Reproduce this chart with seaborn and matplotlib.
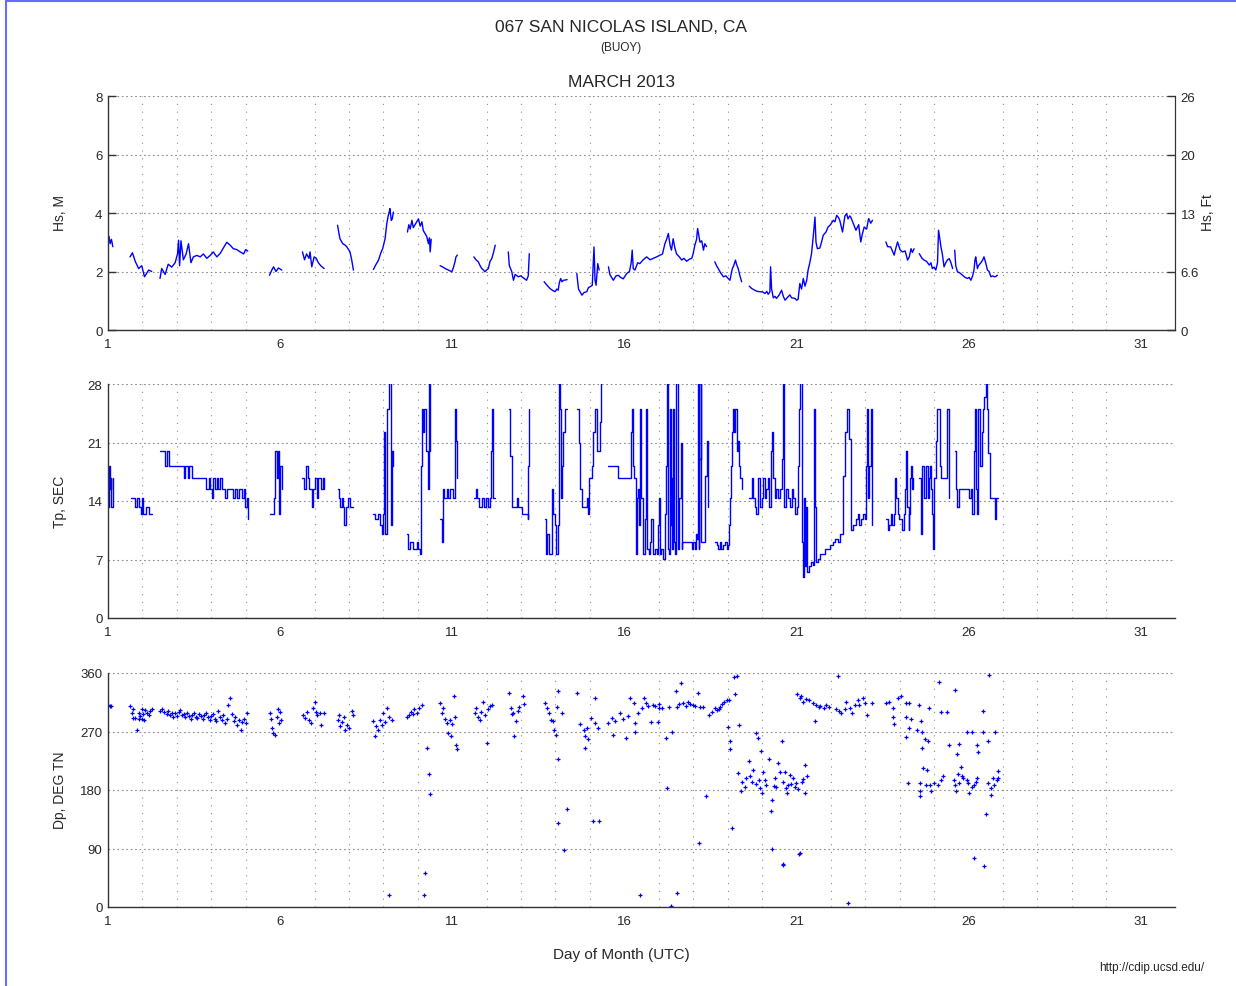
import numpy as np
import pandas as pd
import matplotlib
matplotlib.use("Agg")
import matplotlib.pyplot as plt
from matplotlib.patches import Rectangle
from matplotlib.ticker import FixedLocator
import seaborn as sns

NA = np.nan

# ---- Hs (m), segments split by NA ----
hs_day = [
    1.0, 1.03, 1.06, 1.1, 1.14, NA,
    1.64, 1.71, 1.79, 1.89, 1.98, 2.06, 2.13, 2.18, 2.27, NA,
    2.51, 2.56, 2.66, 2.75, 2.85, 2.95, 3.02, 3.05, 3.08, 3.12, 3.19, 3.27, 3.34, 3.41, 3.48, 3.58,
    3.68, 3.77, 3.87, 3.97, 4.06, 4.16, 4.26, 4.35, 4.45, 4.55, 4.64, 4.74, 4.84, 4.94, 5.0, 5.06, NA,
    5.69, 5.76, 5.81, 5.88, 5.95, 6.05, NA,
    6.65, 6.71, 6.77, 6.84, 6.87, 6.92, 6.99, 7.05, 7.11, 7.18, 7.28, NA,
    7.67, 7.71, 7.74, 7.82, 7.89, 7.94, 8.03, 8.08, 8.13, NA,
    8.71, 8.79, 8.86, 8.93, 8.98, 9.05, 9.1, 9.14, 9.17, 9.19, 9.23, 9.26, 9.29, NA,
    9.7, 9.74, 9.78, 9.83, 9.87, 9.92, 9.97, 10.02, 10.07, 10.12, 10.16, 10.21, 10.26, 10.31, 10.34, 10.36, 10.39, NA,
    10.65, 10.73, 10.8, 10.89, 10.99, 11.04, 11.08, 11.11, 11.15, NA,
    11.63, 11.69, 11.76, 11.81, 11.86, 11.91, 11.95, 12.0, 12.05, 12.1, 12.15, 12.2, 12.25, NA,
    12.63, 12.66, 12.73, 12.78, 12.83, 12.92, 12.99, 13.07, 13.16, 13.21, 13.24, NA,
    13.67, 13.74, 13.84, 13.92, 13.99, 14.04, 14.08, 14.11, 14.15, 14.19, 14.23, 14.34, NA,
    14.62, 14.67, 14.77, 14.83, 14.91, 14.96, 15.01, 15.07, 15.12, 15.15, 15.18, 15.23, 15.27, NA,
    15.54, 15.58, 15.68, 15.76, 15.83, 15.89, 15.97, 16.07, 16.15, 16.2, 16.23, 16.26, 16.31, 16.39,
    16.45, 16.55, 16.65, 16.75, 16.84, 16.94, 17.04, 17.11, 17.18, 17.23, 17.28, 17.33, 17.37, 17.42,
    17.47, 17.52, 17.6, 17.67, 17.73, 17.81, 17.89, 17.96, 18.0, 18.05, 18.1, 18.13, 18.17, 18.2,
    18.25, 18.3, 18.34, 18.39, NA,
    18.63, 18.68, 18.73, 18.8, 18.88, 18.95, 19.02, 19.07, 19.12, 19.14, 19.18, 19.23, 19.26, 19.31, 19.36, 19.41, NA,
    19.63, 19.7, 19.79, 19.86, 19.94, 20.02, 20.09, 20.14, 20.18, 20.23, 20.25, 20.28, 20.33, 20.38,
    20.42, 20.5, 20.57, 20.62, 20.67, 20.73, 20.81, 20.86, 20.96, 21.01, 21.05,
    21.1, 21.15, 21.2, 21.25, 21.3, 21.34, 21.39, 21.44, 21.49, 21.54, 21.57, 21.61, 21.68, 21.73,
    21.78, 21.86, 21.92, 21.99, 22.07, 22.12, 22.17, 22.22, 22.26, 22.34, 22.41, 22.46, 22.5, 22.55,
    22.58, 22.73, 22.81, 22.87, 22.92, 22.97, 23.04, 23.1, 23.16, 23.21, NA,
    23.6, 23.65, 23.74, 23.79, 23.84, 23.89, 23.94, 24.01, 24.08, 24.16, 24.23, 24.28, 24.33, 24.37, 24.42, NA,
    24.57, 24.65, 24.71, 24.78, 24.86, 24.91, 24.95, 25.0, 25.05, 25.1, 25.13, 25.17, 25.2, 25.24,
    25.29, 25.34, 25.39, 25.44, 25.49, 25.54, NA,
    25.6, 25.63, 25.68, 25.75, 25.83, 25.9, 25.97, 26.02, 26.07, 26.12, 26.16, 26.19, 26.21, 26.26,
    26.29, 26.36, 26.41, 26.45, 26.5, 26.55, 26.6, 26.65, 26.7, 26.75, 26.79, 26.84,
]
hs_m = [
    3.05, 3.2, 2.95, 3.1, 2.85, NA,
    2.5, 2.64, 2.35, 2.1, 2.2, 1.82, 1.95, 2.05, 2.0, NA,
    1.76, 2.1, 1.9, 2.25, 2.15, 2.3, 2.6, 3.07, 2.2, 3.05, 2.4, 2.6, 2.95, 2.3, 2.5, 2.55,
    2.5, 2.6, 2.45, 2.55, 2.67, 2.5, 2.62, 2.8, 3.0, 2.9, 2.78, 2.75, 2.67, 2.6, 2.75, 2.7, NA,
    1.87, 2.05, 2.16, 2.0, 2.12, 2.05, NA,
    2.67, 2.4, 2.6, 2.45, 2.67, 2.16, 2.5, 2.45, 2.3, 2.2, 2.1, NA,
    3.58, 3.3, 3.12, 2.95, 2.9, 2.84, 2.67, 2.4, 2.05, NA,
    2.07, 2.25, 2.39, 2.65, 2.78, 3.12, 3.64, 3.9, 4.03, 4.15, 3.75, 3.8, 4.03, NA,
    3.35, 3.6, 3.45, 3.75, 3.5, 3.6, 3.7, 3.8, 3.55, 3.7, 3.4, 3.3, 3.2, 2.95, 3.15, 2.67, 3.1, NA,
    2.2, 2.15, 2.1, 2.05, 1.99, 2.15, 2.33, 2.5, 2.56, NA,
    2.5, 2.4, 2.33, 2.2, 2.1, 2.05, 1.99, 2.05, 2.1, 2.35, 2.44, 2.65, 2.9, NA,
    2.67, 2.2, 2.0, 1.7, 1.9, 1.82, 1.85, 1.78, 1.7, 1.85, 2.61, NA,
    1.65, 1.55, 1.42, 1.35, 1.31, 1.4, 1.36, 1.6, 1.76, 1.65, 1.7, 1.72, NA,
    1.93, 1.4, 1.19, 1.28, 1.31, 1.45, 1.48, 1.53, 2.84, 1.7, 1.53, 2.27, 2.05, NA,
    2.16, 1.9, 1.7, 1.85, 1.87, 1.8, 1.75, 1.93, 2.0, 2.3, 2.73, 2.1, 2.05, 2.3,
    2.27, 2.4, 2.5, 2.4, 2.45, 2.5, 2.56, 2.6, 2.95, 3.1, 3.3, 2.9, 2.73, 3.12,
    2.8, 2.6, 2.5, 2.39, 2.45, 2.35, 2.42, 2.45, 2.6, 2.9, 3.1, 3.47, 3.2, 3.0,
    3.05, 2.73, 2.95, 2.85, NA,
    2.33, 2.2, 2.1, 1.95, 1.82, 1.85, 1.76, 1.7, 2.0, 2.1, 2.2, 2.39, 2.25, 2.1, 1.85, 1.65, NA,
    1.5, 1.42, 1.36, 1.32, 1.31, 1.3, 1.25, 1.32, 1.22, 1.3, 2.16, 1.4, 1.1, 1.15,
    1.08, 1.2, 1.36, 1.15, 1.02, 1.1, 1.2, 1.1, 1.08, 1.02, 1.05,
    1.59, 1.4, 1.76, 1.5, 1.7, 2.05, 2.3, 2.61, 3.2, 3.86, 3.0, 2.78, 2.8, 3.0,
    3.24, 3.35, 3.52, 3.6, 3.75, 3.7, 3.92, 3.85, 3.75, 3.35, 3.9, 3.98, 3.8, 3.9,
    3.86, 3.41, 3.6, 3.01, 3.3, 3.52, 3.45, 3.81, 3.65, 3.75, NA,
    3.01, 2.85, 2.84, 2.7, 2.56, 2.8, 3.01, 2.75, 2.67, 2.7, 2.39, 2.5, 2.78, 2.65, 2.78, NA,
    2.61, 2.45, 2.39, 2.35, 2.22, 2.3, 2.1, 2.15, 2.05, 2.3, 3.41, 3.1, 2.84, 2.6,
    2.16, 2.3, 2.4, 2.44, 2.3, 2.1, NA,
    2.73, 2.2, 1.99, 1.95, 1.87, 1.8, 1.76, 1.8, 1.7, 1.85, 2.05, 2.4, 2.5, 2.1,
    2.2, 2.3, 2.39, 2.5, 2.3, 2.05, 2.0, 1.82, 1.85, 1.82, 1.83, 1.87,
]

# ---- Tp (s), step values, segments split by NA ----
tp_day = [
    1.0, 1.02, 1.05, 1.08, 1.1, 1.14, NA,
    1.66, 1.74, 1.79, 1.85, 1.89, 1.95, 1.98, 2.03, 2.1, 2.18, 2.27, NA,
    2.51, 2.61, 2.66, 2.7, 2.76, 3.19, 3.21, 3.25, 3.31, 3.34, 3.43, 3.82, 3.85, 3.92, 3.97, 4.02,
    4.06, 4.11, 4.16, 4.21, 4.26, 4.31, 4.4, 4.45, 4.64, 4.69, 4.74, 4.82, 4.89, 4.94, 4.98, 5.03, 5.08, NA,
    5.71, 5.79, 5.83, 5.85, 5.9, 5.93, 5.98, 6.0, 6.05, NA,
    6.65, 6.7, 6.76, 6.8, 6.85, 6.92, 6.97, 7.02, 7.06, 7.11, 7.18, 7.24, 7.28, NA,
    7.67, 7.7, 7.74, 7.79, 7.84, 7.87, 7.91, 7.96, 8.03, 8.13, NA,
    8.71, 8.77, 8.83, 8.91, 8.95, 9.0, 9.03, 9.06, 9.1, 9.12, 9.15, 9.19, 9.22, 9.25, 9.29, NA,
    9.68, 9.71, 9.78, 9.87, 9.97, 10.02, 10.07, 10.09, 10.13, 10.16, 10.19, 10.24, 10.29, 10.33, 10.36, NA,
    10.65, 10.69, 10.73, 10.77, 10.84, 10.89, 10.94, 11.02, 11.07, 11.11, 11.15, NA,
    11.63, 11.68, 11.73, 11.79, 11.86, 11.93, 11.98, 12.05, 12.1, 12.12, 12.15, 12.18, 12.2, 12.25, NA,
    12.65, 12.68, 12.73, 12.87, 12.92, 13.02, 13.19, 13.21, 13.24, NA,
    13.7, 13.73, 13.76, 13.8, 13.89, 13.94, 13.99, 14.02, 14.06, 14.1, 14.13, 14.15, 14.19, 14.23, 14.28, 14.34, NA,
    14.64, 14.67, 14.71, 14.76, 14.91, 14.95, 14.98, 15.05, 15.1, 15.15, 15.2, 15.28, 15.31, NA,
    15.54, 15.83, 16.19, 16.22, 16.24, 16.28, 16.34, 16.38, 16.41, 16.44, 16.45, 16.48, 16.53, 16.55,
    16.6, 16.63, 16.66, 16.71, 16.75, 16.79, 16.83, 16.89, 16.94, 16.98, 17.01, 17.04, 17.08, 17.13,
    17.18, 17.21, 17.25, 17.28, 17.3, 17.33, 17.36, 17.37, 17.4, 17.42, 17.45, 17.47, 17.5, 17.55,
    17.57, 17.6, 17.64, 17.67, 17.69, 17.96, 18.0, 18.05, 18.08, 18.1, 18.14, 18.16, 18.18, 18.22,
    18.24, 18.34, 18.39, 18.42, NA,
    18.63, 18.68, 18.73, 18.78, 18.82, 18.88, 18.92, 18.97, 19.02, 19.04, 19.07, 19.1, 19.12, 19.15,
    19.18, 19.21, 19.28, 19.31, 19.34, 19.36, 19.41, NA,
    19.63, 19.7, 19.75, 19.8, 19.84, 19.89, 19.94, 19.99, 20.04, 20.09, 20.13, 20.18, 20.21, 20.25,
    20.28, 20.33, 20.38, 20.42, 20.47, 20.52, 20.57, 20.6, 20.62, 20.65, 20.7, 20.77, 20.81, 20.86,
    20.91, 20.96, 21.01, 21.04, 21.06, 21.08, 21.1,
    21.15, 21.18, 21.22, 21.25, 21.29, 21.32, 21.37, 21.42, 21.47, 21.5, 21.52, 21.55, 21.57, 21.62,
    21.7, 21.84, 21.97, 22.05, 22.12, 22.2, 22.28, 22.35, 22.42, 22.47, 22.53, 22.58, 22.65, 22.72,
    22.78, 22.82, 22.87, 22.93, 22.98, 23.02, 23.05, 23.09, 23.12, 23.16, 23.19, NA,
    23.6, 23.65, 23.7, 23.74, 23.79, 23.84, 23.86, 23.89, 23.94, 23.99, 24.06, 24.13, 24.16, 24.18,
    24.22, 24.26, 24.28, 24.31, 24.34, 24.37, 24.4, NA,
    24.57, 24.62, 24.66, 24.7, 24.78, 24.81, 24.84, 24.88, 24.91, 24.94, 24.98, 25.01, 25.05, 25.08,
    25.17, 25.21, 25.38, 25.42, 25.44, NA,
    25.6, 25.65, 25.68, 25.71, 26.02, 26.07, 26.1, 26.15, 26.18, 26.21, 26.26, 26.29, 26.34, 26.39,
    26.43, 26.46, 26.5, 26.54, 26.58, 26.62, 26.78, 26.81, 26.86,
]
tp_s = [
    13.3, 18.2, 15.4, 16.7, 13.3, 16.7, NA,
    14.3, 14.3, 13.3, 14.3, 13.3, 12.5, 14.3, 12.5, 13.3, 12.5, 12.5, NA,
    20.0, 20.0, 18.2, 20.0, 18.2, 18.2, 16.7, 18.2, 16.7, 18.2, 16.7, 16.7, 15.4, 16.7, 15.4, 14.3,
    16.7, 15.4, 16.7, 15.4, 16.7, 15.4, 14.3, 15.4, 14.3, 15.4, 14.3, 15.4, 14.3, 15.4, 13.3, 14.3, 11.8, NA,
    12.5, 12.5, 14.3, 20.0, 16.7, 20.0, 12.5, 18.2, 15.4, NA,
    16.7, 15.4, 18.2, 16.7, 15.4, 13.3, 15.4, 16.7, 14.3, 16.7, 15.4, 16.7, 15.4, NA,
    15.4, 14.3, 13.3, 14.3, 13.3, 11.1, 13.3, 14.3, 13.3, 13.3, NA,
    12.5, 11.8, 12.5, 11.1, 10.0, 12.5, 22.2, 10.0, 16.7, 25.0, 28.6, 28.6, 11.1, 20.0, 18.2, NA,
    10.0, 8.3, 9.1, 8.3, 9.1, 8.3, 7.7, 18.2, 25.0, 22.2, 25.0, 20.0, 15.4, 28.6, 20.0, NA,
    11.8, 9.1, 15.4, 14.3, 15.4, 14.3, 15.4, 14.3, 25.0, 21.2, 16.7, NA,
    14.3, 15.4, 14.3, 13.3, 14.3, 13.3, 14.3, 13.3, 14.3, 20.0, 25.0, 20.0, 14.3, 14.3, NA,
    25.0, 19.4, 13.3, 14.3, 13.3, 12.5, 11.8, 18.2, 25.0, NA,
    11.8, 7.7, 10.0, 7.7, 15.4, 12.5, 11.1, 7.7, 11.1, 28.6, 25.0, 14.3, 18.2, 22.2, 25.0, 25.0, NA,
    25.0, 21.0, 15.4, 13.3, 14.3, 12.5, 16.7, 18.2, 22.2, 25.0, 20.0, 23.5, 28.6, NA,
    18.2, 16.7, 22.2, 25.0, 18.2, 16.7, 7.7, 14.3, 15.4, 11.1, 25.0, 14.3, 8.3, 7.7,
    11.8, 25.0, 8.3, 7.7, 9.1, 11.8, 7.7, 8.3, 7.7, 11.1, 14.3, 7.7, 8.3, 7.1,
    12.5, 18.2, 28.6, 8.3, 7.7, 25.0, 11.1, 16.7, 8.3, 25.0, 9.1, 7.7, 28.6, 9.1,
    8.3, 14.3, 21.0, 8.3, 9.1, 8.3, 9.1, 8.3, 10.0, 9.5, 28.6, 8.3, 19.0, 28.6,
    9.1, 17.0, 21.2, 13.3, NA,
    9.1, 8.7, 8.3, 9.1, 8.3, 8.7, 9.1, 8.3, 8.7, 11.1, 14.3, 18.2, 22.2, 25.0,
    22.2, 25.0, 20.0, 21.2, 18.2, 16.7, 15.4, NA,
    14.3, 16.7, 14.3, 13.3, 12.5, 16.7, 13.3, 14.3, 16.7, 14.3, 15.4, 16.7, 13.3, 20.0,
    22.2, 16.7, 14.3, 15.4, 14.3, 15.4, 19.0, 25.0, 28.6, 13.3, 15.4, 14.3, 13.3, 15.4,
    14.3, 12.5, 13.3, 16.7, 18.2, 25.0, 28.6,
    9.1, 4.9, 14.3, 6.2, 13.3, 5.5, 6.2, 6.7, 6.3, 15.8, 25.0, 13.3, 6.7, 7.1,
    7.7, 8.3, 8.7, 9.1, 9.5, 9.1, 10.0, 17.0, 22.2, 25.0, 21.4, 10.5, 11.1, 11.8,
    12.5, 11.1, 11.8, 12.5, 11.8, 18.2, 25.0, 14.3, 18.2, 25.0, 11.1, NA,
    11.8, 10.5, 11.1, 12.5, 11.1, 12.5, 16.7, 14.3, 12.5, 11.8, 10.5, 12.5, 15.4, 20.0,
    13.3, 10.5, 12.5, 16.7, 18.2, 15.4, 16.7, NA,
    16.7, 10.0, 18.2, 14.3, 18.2, 14.3, 16.7, 18.2, 15.4, 12.5, 8.3, 16.7, 21.2, 25.0,
    18.2, 16.7, 25.0, 20.0, 14.3, NA,
    20.0, 15.4, 13.3, 15.4, 14.3, 15.4, 12.5, 20.0, 25.0, 15.4, 12.5, 25.0, 18.2, 22.2,
    25.0, 26.5, 28.6, 25.0, 19.8, 14.3, 11.8, 14.3, 14.3,
]

# ---- Dp (deg true north), points ----
dp_day = [
    1.01, 1.05, 1.1,
    1.64, 1.69, 1.72, 1.74, 1.79, 1.84, 1.89, 1.9, 1.93, 1.98, 2.0, 2.03, 2.05, 2.08, 2.13, 2.18, 2.22, 2.27,
    2.52, 2.58, 2.64, 2.7, 2.75, 2.8, 2.85, 2.9, 2.95, 3.0, 3.05, 3.1, 3.15, 3.2, 3.25, 3.3, 3.35,
    3.4, 3.45, 3.5, 3.55, 3.6, 3.65, 3.7, 3.75, 3.8, 3.85, 3.9, 3.95, 4.0, 4.05, 4.1, 4.15, 4.2,
    4.25, 4.3, 4.35, 4.4, 4.45, 4.48, 4.55, 4.6, 4.65, 4.7, 4.75, 4.8, 4.85, 4.9, 4.95, 5.0, 5.03,
    5.7, 5.73, 5.76, 5.8, 5.85, 5.9, 5.95, 5.98, 6.0, 6.03,
    6.67, 6.72, 6.78, 6.85, 6.9, 6.95, 7.0, 7.03, 7.08, 7.15, 7.2, 7.27,
    7.67, 7.72, 7.75, 7.8, 7.85, 7.9, 7.95, 8.0, 8.08, 8.12,
    8.71, 8.75, 8.8, 8.85, 8.9, 8.95, 9.0, 9.05, 9.1, 9.15, 9.25, 9.17,
    9.7, 9.75, 9.8, 9.86, 9.9, 9.97, 10.05, 10.12,
    10.21, 10.19, 10.28, 10.32, 10.35,
    10.65, 10.7, 10.73, 10.78, 10.84, 10.88, 10.93, 10.97, 11.0, 11.05, 11.08, 11.12, 11.14,
    11.65, 11.69, 11.75, 11.8, 11.85, 11.9, 11.95, 12.0, 12.05, 12.1, 12.15,
    12.64, 12.7, 12.73, 12.77, 12.8, 12.85, 12.9, 12.95, 13.05, 13.1,
    13.7, 13.75, 13.8, 13.86, 13.92, 13.96, 14.02, 14.08, 14.05, 14.2, 14.07, 14.07, 14.35, 14.25,
    14.64, 14.72, 14.82, 14.87, 14.87, 14.96, 14.92, 15.03, 15.15, 15.15, 15.25, 15.1, 15.27,
    15.54, 15.63, 15.72, 15.66, 15.87, 15.97, 16.04, 16.12, 16.18, 16.27, 16.3, 16.32, 16.4, 16.5,
    16.64, 16.57, 16.78, 16.82, 17.01, 16.99, 17.2, 17.25, 17.4, 17.11, 17.3, 17.5, 17.52, 17.71,
    17.64, 17.86, 18.0, 18.2, 18.13, 18.45, 18.64, 18.74, 18.79, 18.89, 18.99, 16.47, 17.37, 17.54,
    18.37, 18.18, 16.7, 16.9, 17.0, 17.6, 17.8, 17.9, 18.05, 18.3, 18.55, 18.7, 18.85, 19.05,
    19.2, 19.28, 19.22, 19.02, 19.07, 19.07, 19.33, 19.12,
    19.82, 19.89, 19.96, 19.63, 19.75, 19.31, 19.65, 19.55, 19.41, 19.38, 19.84, 19.94, 19.99, 20.13,
    20.03, 20.21, 20.28, 20.25, 20.38, 20.42, 20.47, 20.57, 20.52, 20.67, 20.71, 20.73, 20.81, 20.91,
    21.0, 21.05, 21.25, 21.3, 21.15, 21.25, 20.28, 20.6, 21.1, 19.5, 19.7, 19.9, 20.08, 20.35,
    20.6, 20.77, 20.85, 20.95, 21.2,
    21.03, 21.1, 21.13, 21.18, 21.28, 21.38, 21.47, 21.57, 21.66, 21.7, 21.81, 21.85, 21.96, 22.15,
    22.25, 22.31, 21.53, 22.45, 22.4, 22.55, 22.63, 22.7, 22.8, 22.82, 22.93, 22.99, 23.04, 23.21,
    21.07, 22.51, 22.22, 20.6,
    23.6, 23.7, 23.8, 23.94, 24.04, 24.19, 24.28, 23.82, 23.85, 24.19, 24.26, 24.19, 24.34, 24.57,
    24.5, 24.62, 24.65, 24.82, 24.65, 24.73, 24.86, 24.68, 24.8, 24.24, 24.6, 24.78, 24.88, 24.6,
    24.58, 24.92, 25.25, 25.2, 25.1, 25.0,
    25.13, 25.2, 25.37, 25.6, 25.42, 25.71, 25.66, 25.58, 25.61, 25.63, 25.72,
    25.78, 25.7, 25.8, 25.85, 25.95, 26.0, 26.09, 26.02, 25.97, 26.1, 26.21, 26.26, 26.17, 26.25,
    26.29, 26.17,
    26.43, 26.41, 26.57, 26.76, 26.6, 26.7, 26.86, 26.75, 26.65, 26.64, 26.85, 26.58, 26.82, 26.5,
    26.46,
]
dp_deg = [
    311, 309, 310,
    309, 299, 291, 304, 291, 273, 299, 289, 294, 290, 305, 297, 287, 303, 299, 296, 301, 304,
    301, 304, 300, 297, 302, 296, 299, 293, 298, 294, 300, 303, 295, 297, 292, 298, 294,
    290, 296, 299, 293, 291, 297, 294, 290, 295, 299, 292, 288, 294, 297, 290, 286, 301,
    293, 287, 295, 283, 290, 311, 322, 297, 286, 293, 280, 287, 273, 284, 290, 283, 299,
    299, 289, 275, 268, 264, 292, 304, 283, 300, 288,
    296, 291, 300, 288, 283, 306, 316, 300, 295, 299, 280, 299,
    288, 296, 278, 284, 292, 273, 280, 276, 301, 296,
    286, 263, 279, 272, 288, 280, 299, 285, 306, 292, 288, 18,
    293, 296, 300, 297, 304, 299, 306, 311,
    52, 19, 245, 204, 174,
    314, 299, 306, 290, 283, 268, 288, 263, 281, 324, 293, 250, 243,
    299, 306, 292, 287, 300, 316, 296, 252, 305, 310, 311,
    329, 306, 297, 299, 263, 286, 301, 307, 324, 312,
    314, 306, 299, 288, 286, 273, 265, 332, 307, 299, 228, 130, 151, 88,
    329, 281, 273, 263, 245, 258, 276, 291, 322, 283, 276, 132, 132,
    283, 291, 286, 265, 299, 290, 260, 294, 322, 314, 283, 270, 299, 306,
    314, 322, 285, 311, 306, 285, 260, 183, 269, 306, 308, 332, 308, 314,
    344, 316, 311, 308, 329, 296, 306, 304, 308, 316, 319, 19, 1.5, 22,
    171, 99, 310, 309, 312, 312, 310, 312, 309, 307, 300, 303, 312, 318,
    354, 356, 327, 277, 255, 243, 280, 121,
    268, 260, 240, 224, 211, 206, 201, 198, 193, 178, 190, 183, 176, 188,
    208, 227, 165, 148, 198, 185, 222, 255, 208, 208, 183, 176, 203, 198,
    191, 181, 219, 201, 193, 176, 89, 65, 83, 185, 192, 195, 196, 186,
    192, 188, 190, 185, 197,
    327, 322, 324, 316, 320, 319, 314, 311, 308, 309, 306, 311, 308, 304,
    301, 299, 286, 316, 304, 306, 299, 311, 319, 311, 322, 314, 296, 314,
    81, 6, 355, 66,
    314, 316, 306, 322, 324, 314, 314, 293, 282, 293, 275, 261, 289, 311,
    272, 286, 270, 255, 245, 258, 306, 214, 211, 191, 191, 188, 188, 178,
    171, 178, 201, 196, 188, 191,
    346, 300, 300, 334, 250, 251, 236, 196, 188, 178, 191,
    215, 204, 201, 199, 196, 191, 185, 176, 269, 269, 193, 199, 188, 249,
    238, 75,
    301, 270, 256, 269, 357, 199, 209, 188, 183, 172, 199, 191, 195, 143,
    63,
]

hs_ticks = [0, 2, 4, 6, 8]
ft_labels = ["0", "6.6", "13", "20", "26"]
tp_ticks = [0, 7, 14, 21, 28]
dp_ticks = [0, 90, 180, 270, 360]
day_ticks = [1, 6, 11, 16, 21, 26, 31]

sns.set_style("white")
plt.rcParams["font.family"] = ["Liberation Sans", "DejaVu Sans"]

BLUE = "#0000ff"
GRID = "#8a8a8a"
SPINE = "#333333"


def segs(day, val, name):
    df = pd.DataFrame({"day": day, name: val})
    df["seg"] = df["day"].isna().cumsum()
    return df.dropna()


hs_df = segs(hs_day, hs_m, "hs")
tp_df = segs(tp_day, tp_s, "tp")
dp_df = pd.DataFrame({"day": dp_day, "dp": dp_deg})

fig = plt.figure(figsize=(12.36, 9.87), dpi=100)
W, H = 1236, 987
left, right = 108 / W, 1175 / W
tops = [97, 385, 674]
hgt = 234

axes = []
for t in tops:
    ax = fig.add_axes([left, 1 - (t + hgt) / H, right - left, hgt / H])
    axes.append(ax)
ax1, ax2, ax3 = axes

sns.lineplot(data=hs_df, x="day", y="hs", units="seg", estimator=None, sort=False,
             color=BLUE, lw=1.0, ax=ax1, legend=False)
sns.lineplot(data=tp_df, x="day", y="tp", units="seg", estimator=None, sort=False,
             color=BLUE, lw=1.0, ax=ax2, legend=False, drawstyle="steps-post")
sns.scatterplot(data=dp_df, x="day", y="dp", marker="+", s=10, linewidth=0.9,
                color=BLUE, ax=ax3, legend=False)

for ax, yt, ymax in [(ax1, hs_ticks, 8), (ax2, tp_ticks, 28), (ax3, dp_ticks, 360)]:
    ax.set_xlim(1, 32)
    ax.set_ylim(0, ymax)
    ax.set_xticks(day_ticks)
    ax.xaxis.set_minor_locator(FixedLocator(list(range(1, 33))))
    ax.set_yticks(yt)
    ax.set_xlabel("")
    ax.set_ylabel("")
    ax.grid(False)
    ax.grid(True, axis="x", which="minor", color=GRID, ls=(0, (1, 6)), lw=0.8)
    ax.grid(True, axis="y", which="major", color=GRID, ls=(0, (1.5, 2.5)), lw=0.8)
    for s in ["top", "right"]:
        ax.spines[s].set_visible(False)
    for s in ["left", "bottom"]:
        ax.spines[s].set_color(SPINE)
        ax.spines[s].set_linewidth(1.0)
    ax.tick_params(axis="x", which="major", direction="in", length=5, width=1, color=SPINE,
                   labelsize=9.5, pad=6)
    ax.tick_params(axis="x", which="minor", direction="in", length=4, width=1, color=SPINE)
    ax.tick_params(axis="y", which="major", direction="in", length=6, width=1, color=SPINE,
                   labelsize=9.5, pad=4)
    ax.set_axisbelow(True)

# right feet axis on the Hs panel
ax1.spines["right"].set_visible(True)
ax1.spines["right"].set_color(SPINE)
axr = ax1.twinx()
axr.set_ylim(0, 8)
axr.set_yticks(hs_ticks)
axr.set_yticklabels(ft_labels)
axr.tick_params(axis="y", direction="in", length=6, width=1, color=SPINE, labelsize=9.5, pad=4)
for s in ["top", "left", "bottom"]:
    axr.spines[s].set_visible(False)
axr.spines["right"].set_color(SPINE)
axr.grid(False)

fig.text(60 / W, 1 - 213 / H, "Hs, M", rotation=90, ha="center", va="center", fontsize=10)
fig.text(1208 / W, 1 - 213 / H, "Hs, Ft", rotation=90, ha="center", va="center", fontsize=10)
fig.text(60 / W, 1 - 502 / H, "Tp, SEC", rotation=90, ha="center", va="center", fontsize=10)
fig.text(60 / W, 1 - 790 / H, "Dp, DEG TN", rotation=90, ha="center", va="center", fontsize=10)

fig.text(621 / W, 1 - 28 / H, "067 SAN NICOLAS ISLAND, CA", ha="center", va="center", fontsize=12.5)
fig.text(621 / W, 1 - 48 / H, "(BUOY)", ha="center", va="center", fontsize=8.5)
fig.text(621 / W, 1 - 83 / H, "MARCH 2013", ha="center", va="center", fontsize=12.5)
fig.text(621 / W, 1 - 955 / H, "Day of Month (UTC)", ha="center", va="center", fontsize=11)
fig.text(1152 / W, 1 - 968 / H, "http://cdip.ucsd.edu/", ha="center", va="center", fontsize=8.5)

# blue frame of the original page (left and top edges visible)
fig.patches.append(Rectangle((5.5 / W, -0.05), 1.1, 1.05 - 1.5 / H, transform=fig.transFigure,
                             fill=False, edgecolor="#6a6aff", lw=1.5, zorder=10))

fig.savefig("out.png", dpi=100)
